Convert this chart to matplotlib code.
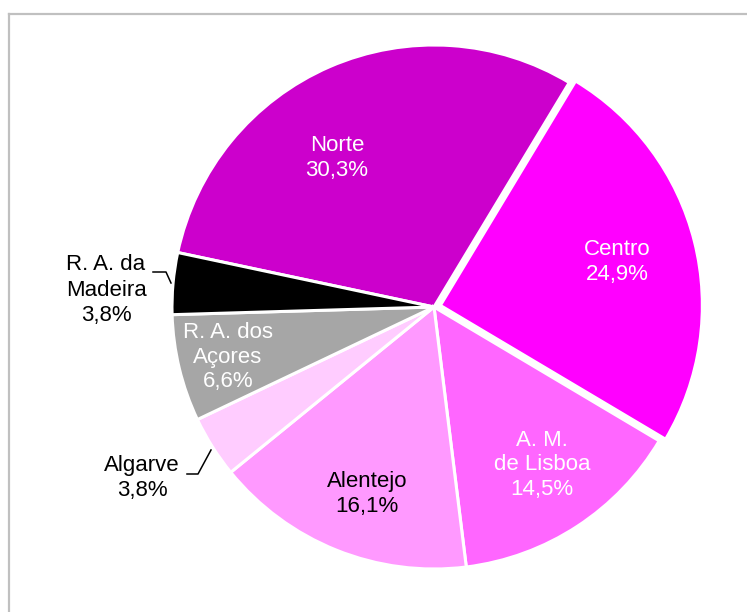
import numpy as np
import matplotlib
matplotlib.use('Agg')
import matplotlib.pyplot as plt
from matplotlib.lines import Line2D

plt.rcParams['font.family'] = ['Liberation Sans', 'DejaVu Sans']

regions = ['Norte', 'Centro', 'A. M.\nde Lisboa', 'Alentejo', 'Algarve',
           'R. A. dos\nAçores', 'R. A. da\nMadeira']
shares = [30.3, 24.9, 14.5, 16.1, 3.8, 6.6, 3.8]
colors = ['#CC00CC', '#FF00FF', '#FF66FF', '#FF99FF', '#FFCCFF', '#A6A6A6', '#000000']
text_colors = ['white', 'white', 'white', 'black', 'black', 'white', 'black']
explode = [0, 0.025, 0, 0, 0, 0, 0]

W, H = 747, 612
R = 262
# label centres in pixel coordinates (from top-left)
label_pos = [(337, 158), (617, 262), (542, 465), (367, 494), (142, 478),
             (228, 357), (106, 290)]

fig = plt.figure(figsize=(W / 100, H / 100), dpi=100)
ax = fig.add_axes([0, 0, 1, 1])

# pie drawn in pixel units, so explode is scaled by the radius
ax.pie(shares, colors=colors, explode=[e * R for e in explode], startangle=168,
       counterclock=False, center=(434, H - 307), radius=R, frame=True,
       wedgeprops=dict(edgecolor='white', linewidth=2.2))
ax.set_xlim(0, W)
ax.set_ylim(0, H)
ax.set_aspect('equal')
ax.axis('off')

def fmt(v):
    return f"{v:.1f}".replace('.', ',') + '%'

for name, v, (px, py), tc in zip(regions, shares, label_pos, text_colors):
    ax.text(px, H - py, f"{name}\n{fmt(v)}", ha='center', va='center',
            fontsize=16, color=tc, linespacing=1.25)

# leader lines for outside labels
ax.plot([153, 166, 171], [H - 272, H - 272, H - 283], color='black', lw=1.1)
ax.plot([187, 198, 211], [H - 474, H - 474, H - 450], color='black', lw=1.1)

# chart area border (left and top visible)
fig.add_artist(Line2D([9 / W, 9 / W], [0, 1 - 14 / H], transform=fig.transFigure,
                      color='#C0C0C0', lw=1.6))
fig.add_artist(Line2D([9 / W, 1], [1 - 14 / H, 1 - 14 / H], transform=fig.transFigure,
                      color='#C0C0C0', lw=1.6))

fig.savefig('out.png', dpi=100, facecolor='white')
